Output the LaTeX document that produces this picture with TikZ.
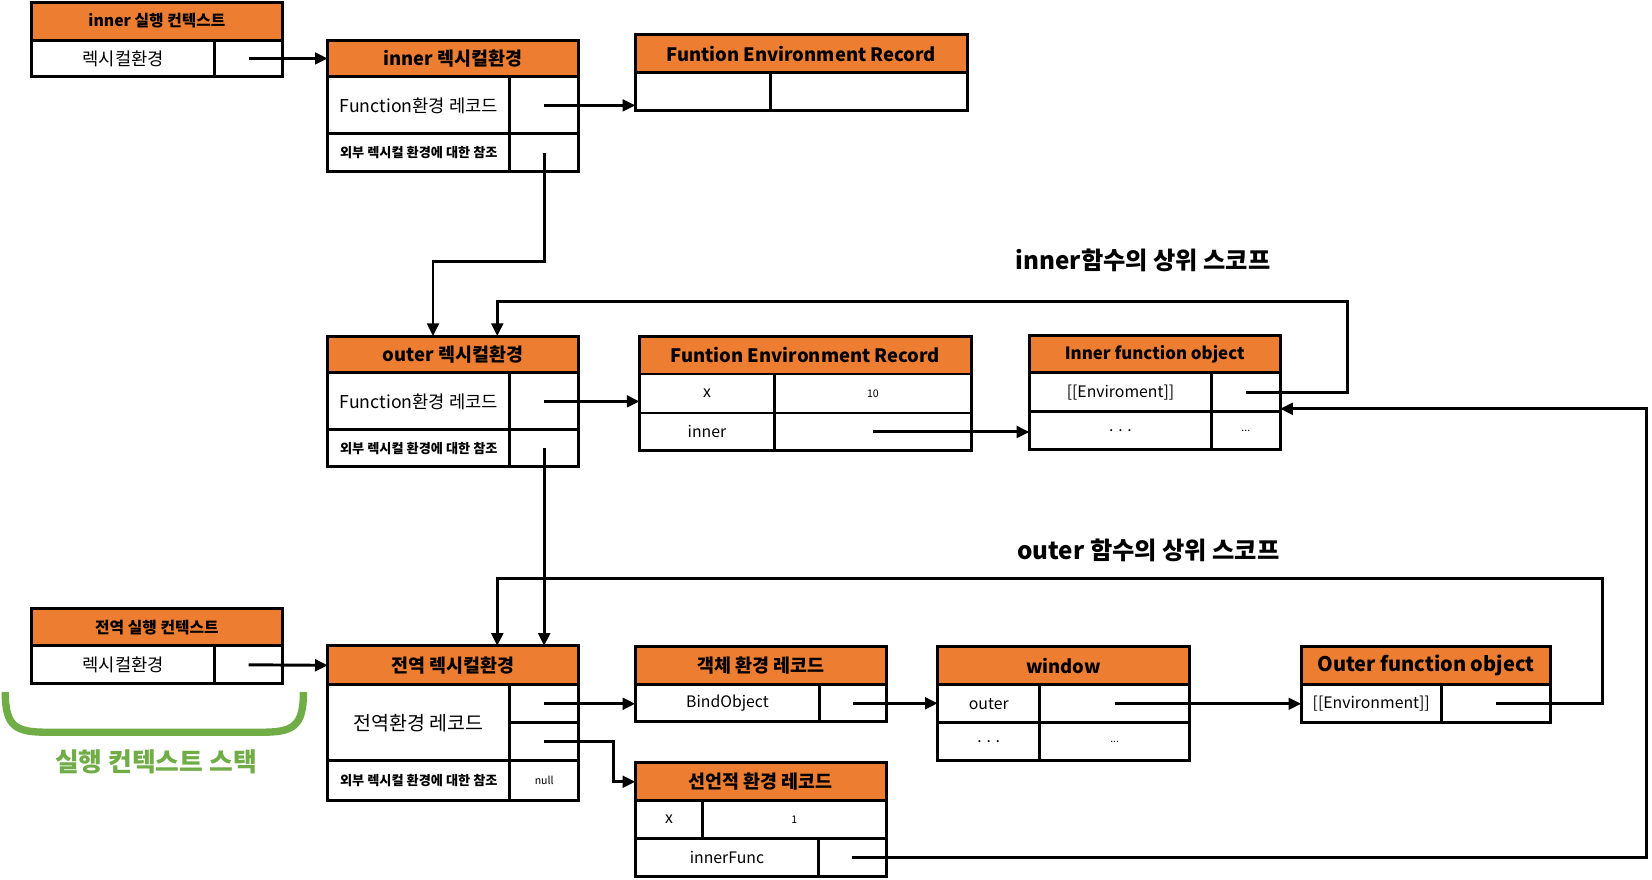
\documentclass[tikz,border=0pt]{standalone}
\usepackage{fontspec}
\setmainfont{Noto Sans CJK KR}
\usetikzlibrary{arrows.meta}
\definecolor{hdr}{HTML}{ED7D31}
\definecolor{grn}{HTML}{70AD47}
\tikzset{
 box/.style={draw, line width=2.8pt, inner sep=0pt, outer sep=0pt, anchor=north west},
 hd/.style={box, fill=hdr, font=\bfseries\fontsize{17.5}{20}\selectfont},
 ctxhd/.style={box, fill=hdr, font=\bfseries\fontsize{15}{17}\selectfont},
 cl/.style={box, fill=white, font=\fontsize{15}{18}\selectfont},
 kr/.style={box, fill=white, font=\fontsize{16.8}{20}\selectfont},
 big/.style={box, fill=white, font=\fontsize{18.5}{22}\selectfont},
 sm/.style={box, fill=white, font=\bfseries\fontsize{12.5}{14}\selectfont},
 tinyc/.style={box, fill=white, font=\fontsize{10}{12}\selectfont},
 arr/.style={line width=2.8pt, -{Triangle[length=12pt,width=11pt]}},
 scopelbl/.style={font=\bfseries\fontsize{23}{27}\selectfont},
}
\newcommand\mycell[7]{\node[#2, minimum width={(#5)-(#3)}, minimum height={(#6)-(#4)}] (#1) at (#3,#4) {#7};}
\begin{document}
\begin{tikzpicture}[x=1pt,y=-1pt]
\useasboundingbox (0,0) rectangle (1568,835);
% inner execution context
\mycell{ich}{ctxhd}{30}{2}{268}{38}{inner 실행 컨텍스트}
\mycell{icl}{kr}{30}{38}{204}{73}{렉시컬환경}
\mycell{icv}{cl}{204}{38}{268}{73}{}
% inner lexical env
\mycell{ilh}{hd}{311}{38}{549}{73}{inner 렉시컬환경}
\mycell{il1}{kr}{311}{73}{484}{127}{Function환경 레코드}
\mycell{il1v}{cl}{484}{73}{549}{127}{}
\mycell{il2}{sm}{311}{127}{484}{163}{외부 렉시컬 환경에 대한 참조}
\mycell{il2v}{cl}{484}{127}{549}{163}{}
% FER top
\mycell{f1h}{hd}{603}{33}{918}{69}{Funtion Environment Record}
\mycell{f1l}{cl}{603}{69}{731}{105}{}
\mycell{f1r}{cl}{731}{69}{918}{105}{}
% outer lexical env
\mycell{olh}{hd}{311}{319}{549}{354}{outer 렉시컬환경}
\mycell{ol1}{kr}{311}{354}{484}{408}{Function환경 레코드}
\mycell{ol1v}{cl}{484}{354}{549}{408}{}
\mycell{ol2}{sm}{311}{408}{484}{443}{외부 렉시컬 환경에 대한 참조}
\mycell{ol2v}{cl}{484}{408}{549}{443}{}
% FER mid
\mycell{f2h}{hd}{607}{319}{922}{355}{Funtion Environment Record}
\mycell{f2a}{cl}{607}{355}{735}{392}{x}
\mycell{f2av}{tinyc}{735}{355}{922}{392}{10}
\mycell{f2b}{cl}{607}{392}{735}{428}{inner}
\mycell{f2bv}{cl}{735}{392}{922}{428}{}
% inner function object
\mycell{ifh}{hd, font=\bfseries\fontsize{16}{18}\selectfont}{977}{318}{1215}{354}{Inner function object}
\mycell{if1}{cl}{977}{354}{1150}{391}{[[Enviroment]]}
\mycell{if1v}{cl}{1150}{354}{1215}{391}{}
\mycell{if2}{cl}{977}{391}{1150}{427}{. . .}
\mycell{if2v}{tinyc}{1150}{391}{1215}{427}{...}
% global execution context
\mycell{gch}{ctxhd}{30}{578}{268}{613}{전역 실행 컨텍스트}
\mycell{gcl}{kr}{30}{613}{204}{649}{렉시컬환경}
\mycell{gcv}{cl}{204}{613}{268}{649}{}
% global lexical env
\mycell{gh}{hd}{311}{613}{549}{650}{전역 렉시컬환경}
\mycell{g1}{big}{311}{650}{484}{722}{전역환경 레코드}
\mycell{g1a}{cl}{484}{650}{549}{686}{}
\mycell{g1b}{cl}{484}{686}{549}{722}{}
\mycell{g2}{sm}{311}{722}{484}{760}{외부 렉시컬 환경에 대한 참조}
\mycell{g2v}{tinyc}{484}{722}{549}{760}{null}
% object env record
\mycell{oh}{hd}{603}{614}{841}{650}{객체 환경 레코드}
\mycell{o1}{cl}{603}{650}{778}{685}{BindObject}
\mycell{o1v}{cl}{778}{650}{841}{685}{}
% declarative env record
\mycell{dh}{hd}{603}{724}{841}{760}{선언적 환경 레코드}
\mycell{d1}{cl}{603}{760}{667}{796}{x}
\mycell{d1v}{tinyc}{667}{760}{841}{796}{1}
\mycell{d2}{cl}{603}{796}{777}{832}{innerFunc}
\mycell{d2v}{cl}{777}{796}{841}{832}{}
% window
\mycell{wh}{hd}{890}{614}{1129}{650}{window}
\mycell{w1}{cl}{890}{650}{987}{686}{outer}
\mycell{w1v}{cl}{987}{650}{1129}{686}{}
\mycell{w2}{cl}{890}{686}{987}{722}{. . .}
\mycell{w2v}{tinyc}{987}{686}{1129}{722}{...}
% outer function object
\mycell{oth}{hd, font=\bfseries\fontsize{19}{22}\selectfont}{1235}{614}{1472}{650}{Outer function object}
\mycell{ot1}{cl}{1235}{650}{1368}{686}{[[Environment]]}
\mycell{ot1v}{cl}{1368}{650}{1472}{686}{}
% labels
\node[scopelbl] (lbl1) at (1085,247) {inner함수의 상위 스코프};
\node[scopelbl] (lbl2) at (1090,522) {outer 함수의 상위 스코프};
\node[font=\bfseries\fontsize{24.5}{28}\selectfont, text=grn] (stk) at (148,723) {실행 컨텍스트 스택};
\draw[grn, line width=7pt] (5,657) .. controls (5,690) and (15,695) .. (45,695) -- (248,695) .. controls (278,695) and (288,690) .. (288,657);
% connectors
\draw[arr] (icv.center) -- (ilh.west);
\draw[arr] (il1v.center) -- (il1v.center -| f1l.west);
\coordinate (k1) at (411,248);
\draw[arr] (il2v.center) |- (k1) -- (k1 |- olh.north);
\draw[arr] (ol1v.center) -- (ol1v.center -| f2a.west);
\draw[arr] (f2bv.center) -- (f2bv.center -| if2.west);
\coordinate (k2) at (1279,286);
\coordinate (k3) at (472,286);
\draw[arr] (if1v.center) -| (k2) -- (k3) -- (k3 |- olh.north);
\draw[arr] (ol2v.center) -- (ol2v.center |- gh.north);
\draw[arr] (gcv.center) -- (gh.west);
\draw[arr] (g1a.center) -- (g1a.center -| o1.west);
\coordinate (k4) at (582,742);
\draw[arr] (g1b.center) -| (k4) -- (k4 -| dh.west);
\draw[arr] (o1v.center) -- (o1v.center -| w1.west);
\draw[arr] (w1v.center) -- (w1v.center -| ot1.west);
\coordinate (k5) at (1521,549);
\coordinate (k6) at (472,549);
\draw[arr] (ot1v.center) -| (k5) -- (k6) -- (k6 |- gh.north);
\coordinate (k7) at (1563,388);
\draw[arr] (d2v.center) -| (k7) -- (k7 -| if1v.east);
\end{tikzpicture}
\end{document}
